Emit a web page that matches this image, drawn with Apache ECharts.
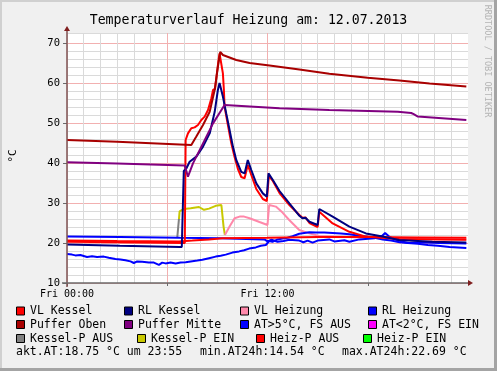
<!DOCTYPE html>
<html><head><meta charset="utf-8">
<script src="https://cdn.jsdelivr.net/npm/echarts@6.0.0/dist/echarts.min.js"></script>
<style>html,body{margin:0;padding:0;background:#f0f0f0}#c{width:497px;height:371px}</style>
</head><body><div id="c"></div>
<script>
const FONT = '"DejaVu Sans Mono", monospace';
const titleText = 'Temperaturverlauf Heizung am: 12.07.2013';
const yAxisName = '°C';
const watermark = 'RRDTOOL / TOBI OETIKER';
// x axis: hours since Fri 00:00
const X_MIN = 0, X_MAX = 24, Y_MIN = 10, Y_MAX = 72.5;
const xLabelValues = [0, 12];
const xLabelTexts = ['Fri 00:00', 'Fri 12:00'];
const xTickValues = [0, 6, 12, 18];
const yLabelValues = [10, 20, 30, 40, 50, 60, 70];

// series data: [hour, °C]
const vlKessel = [[0,20.3],[3,20.2],[7.05,20.0],[7.1,45.75],[7.24,47.4],[7.44,48.7],[7.64,48.9],[7.84,49.5],[8.04,50.75],[8.24,51.6],[8.44,53.25],[8.64,56.2],[8.74,58.25],[8.86,58.5],[8.97,62.4],[9.07,65.75],[9.13,67.4],[9.23,64.9],[9.33,62.4],[9.39,58.25],[9.43,54.1],[9.63,49.5],[9.83,45.0],[10.03,41.5],[10.23,38.5],[10.43,36.5],[10.63,36.2],[10.82,39.5],[11.03,37.0],[11.33,33.5],[11.72,31.0],[11.96,30.5],[12.08,36.8],[12.32,35.5],[12.72,32.5],[13.31,29.5],[13.91,27.0],[14.09,26.3],[14.27,26.4],[14.51,25.0],[15.0,24.0],[15.1,27.8],[15.9,24.9],[16.9,22.8],[17.89,21.6],[19.88,21.0],[23.9,20.8]];
const rlKessel = [[0,19.6],[3.16,19.3],[6.75,19.0],[6.87,19.0],[6.99,38.0],[7.15,38.7],[7.34,40.3],[7.74,41.6],[8.14,44.1],[8.54,47.4],[8.84,52.8],[9.03,58.25],[9.13,60.0],[9.33,56.6],[9.53,52.4],[9.73,48.25],[9.93,44.1],[10.13,40.75],[10.43,37.8],[10.63,37.4],[10.82,40.75],[11.03,38.25],[11.33,34.9],[11.72,32.4],[11.96,31.6],[12.06,37.4],[12.32,35.75],[12.72,33.0],[13.31,29.9],[13.91,26.8],[14.09,26.2],[14.27,26.3],[14.51,25.3],[15.0,24.5],[15.1,28.5],[15.9,26.6],[16.9,24.1],[17.89,22.4],[18.88,21.6],[19.88,20.75],[21.87,20.3],[23.9,20.1]];
const vlHeizung = [[9.45,22.0],[9.53,21.6],[9.73,24.1],[10.03,26.2],[10.33,26.6],[10.6,26.6],[10.93,26.2],[11.52,25.25],[12.0,24.5],[12.1,29.5],[12.5,29.1],[12.9,27.6],[13.3,25.75],[13.9,23.25],[14.5,22.4],[15.1,21.75],[16,21.6],[18,21.3],[21,21.0],[23.9,20.9]];
const rlHeizung = [[0,21.6],[3.16,21.5],[6.75,21.3],[9.13,21.2],[11.82,20.9],[12.0,20.4],[12.24,20.8],[12.6,20.3],[12.96,20.5],[13.3,20.8],[13.9,20.6],[14.15,20.2],[14.4,20.6],[14.7,20.1],[15.0,20.6],[15.7,20.9],[16.0,20.4],[16.6,20.7],[16.9,20.3],[17.5,20.9],[18.4,21.2],[18.87,21.8],[19.04,22.5],[19.28,21.6],[19.58,21.0],[20.0,20.4],[20.48,20.0],[21.07,20.2],[22.27,20.0],[23.9,19.9]];
const pufferOben = [[0,45.75],[3,45.3],[7.44,44.5],[7.74,46.6],[8.14,49.5],[8.54,52.8],[8.84,58.3],[9.03,64.0],[9.17,67.8],[9.33,67.0],[10.13,65.75],[10.93,65.0],[12.12,64.4],[13.91,63.4],[15.7,62.3],[18,61.3],[19.9,60.6],[21.7,59.9],[23.9,59.1]];
const pufferMitte = [[0,40.2],[3,39.9],[7.04,39.4],[7.24,36.6],[7.54,39.9],[8.14,44.9],[8.74,49.9],[9.43,54.5],[12.72,53.7],[15.7,53.25],[19.8,52.8],[20.6,52.5],[20.75,52.2],[21.0,51.6],[23.9,50.75]];
const atAus = [[0,17.25],[0.3,17.1],[0.5,16.9],[0.8,17.0],[1.2,16.5],[1.5,16.7],[1.8,16.5],[2.2,16.6],[2.5,16.3],[2.9,16.0],[3.2,15.9],[3.5,15.7],[3.8,15.4],[4.0,15.0],[4.2,15.4],[4.5,15.3],[4.9,15.1],[5.2,15.1],[5.5,14.55],[5.7,15.1],[5.9,14.9],[6.2,15.1],[6.5,14.9],[6.8,15.1],[7.1,15.2],[7.4,15.4],[7.8,15.6],[8.1,15.8],[8.5,16.2],[8.9,16.6],[9.2,16.8],[9.5,17.1],[9.9,17.6],[10.3,17.9],[10.6,18.2],[10.9,18.6],[11.3,18.9],[11.6,19.3],[11.9,19.5],[12.1,20.5],[12.3,20.3],[12.6,20.9],[12.9,21.1],[13.2,21.3],[13.5,21.7],[13.9,22.3],[14.2,22.5],[14.5,22.69],[14.9,22.6],[15.4,22.6],[15.9,22.5],[16.4,22.4],[16.9,22.2],[17.4,21.9],[17.9,21.6],[18.4,21.3],[18.9,20.9],[19.4,20.6],[19.9,20.2],[20.4,20.0],[21.0,19.8],[21.6,19.5],[22.2,19.3],[22.9,19.0],[23.9,18.75]];
const atEin = [];
const kesselPAus = [[6.6,21.4],[6.64,21.4],[6.7,26.0]];
const kesselPEin = [[6.7,26.0],[6.74,27.9],[6.85,28.4],[7.0,28.5],[7.4,28.7],[7.9,29.0],[8.2,28.3],[8.5,28.6],[8.9,29.3],[9.24,29.5],[9.3,29.5],[9.37,24.1],[9.45,22.0]];
const heizPAus = [[0,20.6],[3,20.5],[6.7,20.4],[7.5,20.6],[8.5,20.9],[9.3,21.2],[12,21.3],[15,21.5],[18,21.5],[21,21.4],[23.9,21.3]];
const heizPEin = [];

const legendNames = ['VL Kessel','RL Kessel','VL Heizung','RL Heizung','Puffer Oben','Puffer Mitte','AT>5°C, FS AUS','AT<2°C, FS EIN','Kessel-P AUS','Kessel-P EIN','Heiz-P AUS','Heiz-P EIN'];
const legendColors = ['#ff0000','#000080','#ff88aa','#0000ff','#a80000','#800080','#0000ff','#ff00ff','#808080','#c8c800','#ff0000','#00ff00'];
const legendData = [vlKessel, rlKessel, vlHeizung, rlHeizung, pufferOben, pufferMitte, atAus, atEin, kesselPAus, kesselPEin, heizPAus, heizPEin];
const statTexts = ['akt.AT:18.75 °C um 23:55', 'min.AT24h:14.54 °C', 'max.AT24h:22.69 °C'];

// drawing order (bottom -> top), indices into the legend lists
const drawOrder = [8, 9, 2, 6, 7, 3, 10, 11, 0, 1, 4, 5];

const MINOR = '#dadada', MAJOR = '#f2b0b0';
const minorYColors = [];
for (let v = Y_MIN; v <= Y_MAX; v += 2) minorYColors.push(v === 72 ? 'rgba(0,0,0,0)' : MINOR);
minorYColors.push(MINOR);
const majorYColors = [];
for (let v = Y_MIN; v <= Y_MAX; v += 10) majorYColors.push(MAJOR);
majorYColors.push('rgba(0,0,0,0)');

const series = drawOrder.map(i => ({
  type: 'line', name: legendNames[i], data: legendData[i],
  xAxisIndex: 1, yAxisIndex: 1, showSymbol: false, symbol: 'none',
  lineStyle: { color: legendColors[i], width: 2 }, itemStyle: { color: legendColors[i] },
  animation: false, silent: true
}));

const option = {
  animation: false,
  backgroundColor: '#f0f0f0',
  textStyle: { fontFamily: FONT },
  title: { text: titleText, left: 'center', top: 9,
    textStyle: { fontFamily: FONT, fontSize: 13.2, fontWeight: 'normal', color: '#000' } },
  grid: { left: 67, right: 29, top: 33, bottom: 88, show: true, backgroundColor: '#ffffff', borderWidth: 0 },
  xAxis: [
    { type: 'value', position: 'bottom', min: X_MIN, max: X_MAX, interval: 1,
      axisLine: { show: false }, axisTick: { show: false }, axisLabel: { show: false },
      splitLine: { show: true, showMaxLine: false, lineStyle: { color: MINOR, width: 1 } } },
    { type: 'value', position: 'bottom', min: X_MIN, max: X_MAX, interval: 6,
      axisLine: { show: false, onZero: false },
      axisTick: { show: true, length: 3, customValues: xTickValues, lineStyle: { color: '#6a6a6a' } },
      axisLabel: { show: true, customValues: xLabelValues, margin: 6, color: '#000', fontSize: 10, fontFamily: FONT,
        formatter: v => { const k = xLabelValues.indexOf(v); return k >= 0 ? xLabelTexts[k] : ''; } },
      splitLine: { show: true, showMinLine: false, showMaxLine: false, lineStyle: { color: MAJOR, width: 1 } } }
  ],
  yAxis: [
    { type: 'value', position: 'left', min: Y_MIN, max: Y_MAX, interval: 2,
      axisLine: { show: false }, axisTick: { show: false }, axisLabel: { show: false },
      splitLine: { show: true, showMinLine: true, showMaxLine: true, lineStyle: { color: minorYColors, width: 1 } } },
    { type: 'value', position: 'left', min: Y_MIN, max: Y_MAX, interval: 10,
      axisLine: { show: false, onZero: false },
      axisTick: { show: true, length: 4, customValues: yLabelValues, lineStyle: { color: '#6a6a6a' } },
      axisLabel: { show: true, customValues: yLabelValues, margin: 7, color: '#000', fontSize: 10.5, fontFamily: FONT,
        formatter: v => (yLabelValues.indexOf(v) >= 0 ? String(v) : '') },
      splitLine: { show: true, showMinLine: true, showMaxLine: true, lineStyle: { color: majorYColors, width: 1 } } }
  ],
  series: series
};

const chart = echarts.init(document.getElementById('c'), null, { renderer: 'canvas' });
chart.setOption(option);

const o = chart.convertToPixel({ xAxisIndex: 1, yAxisIndex: 1 }, [X_MIN, Y_MIN]);
const e = chart.convertToPixel({ xAxisIndex: 1, yAxisIndex: 1 }, [X_MAX, Y_MAX]);

const g = [];
// frame shading
g.push({ type: 'rect', shape: { x: 0, y: 0, width: 497, height: 2 }, style: { fill: '#d0d0d0' }, silent: true });
g.push({ type: 'rect', shape: { x: 0, y: 0, width: 2, height: 371 }, style: { fill: '#d0d0d0' }, silent: true });
g.push({ type: 'rect', shape: { x: 0, y: 368, width: 497, height: 3 }, style: { fill: '#a4a4a4' }, silent: true });
g.push({ type: 'rect', shape: { x: 494, y: 0, width: 3, height: 371 }, style: { fill: '#a4a4a4' }, silent: true });
// axes
g.push({ type: 'line', shape: { x1: o[0], y1: o[1] + 4, x2: o[0], y2: e[1] - 2 }, style: { stroke: '#805050', lineWidth: 1.5 }, z: 100 });
g.push({ type: 'polygon', shape: { points: [[o[0] - 3, e[1] - 2], [o[0] + 3, e[1] - 2], [o[0], e[1] - 7]] }, style: { fill: '#801f1f' }, z: 100 });
g.push({ type: 'line', shape: { x1: o[0] - 5, y1: o[1], x2: e[0], y2: o[1] }, style: { stroke: '#6a6a6a', lineWidth: 1.5 }, z: 100 });
g.push({ type: 'polygon', shape: { points: [[e[0], o[1] - 3], [e[0], o[1] + 3], [e[0] + 5, o[1]]] }, style: { fill: '#801f1f' }, z: 100 });
// y axis name
g.push({ type: 'text', x: 13.5, y: 156, rotation: Math.PI / 2,
  style: { text: yAxisName, font: '11px ' + FONT, fill: '#000', align: 'center', verticalAlign: 'middle' } });
// watermark
g.push({ type: 'text', x: 487, y: 61, rotation: -Math.PI / 2,
  style: { text: watermark, font: '8.5px ' + FONT, fill: '#b4b4b4', align: 'center', verticalAlign: 'middle' } });
// legend
const legendBoxX = [[16, 124, 240, 368], [16, 124, 240, 368], [16, 137, 256, 363]];
const legendRowY = [311.5, 325, 339];
legendNames.forEach((name, i) => {
  const r = Math.floor(i / 4), c = i % 4;
  const bx = legendBoxX[r][c], cy = legendRowY[r];
  g.push({ type: 'rect', shape: { x: bx + 0.5, y: cy - 4.5, width: 8, height: 8 },
    style: { fill: legendColors[i], stroke: '#000', lineWidth: 1 } });
  g.push({ type: 'text', x: bx + 14, y: cy,
    style: { text: name, font: '11.5px ' + FONT, fill: '#000', align: 'left', verticalAlign: 'middle' } });
});
const statX = [16, 200, 342];
statTexts.forEach((t, i) => {
  g.push({ type: 'text', x: statX[i], y: 352.5,
    style: { text: t, font: '11.5px ' + FONT, fill: '#000', align: 'left', verticalAlign: 'middle' } });
});
chart.setOption({ graphic: { elements: g } });
</script>
</body></html>
